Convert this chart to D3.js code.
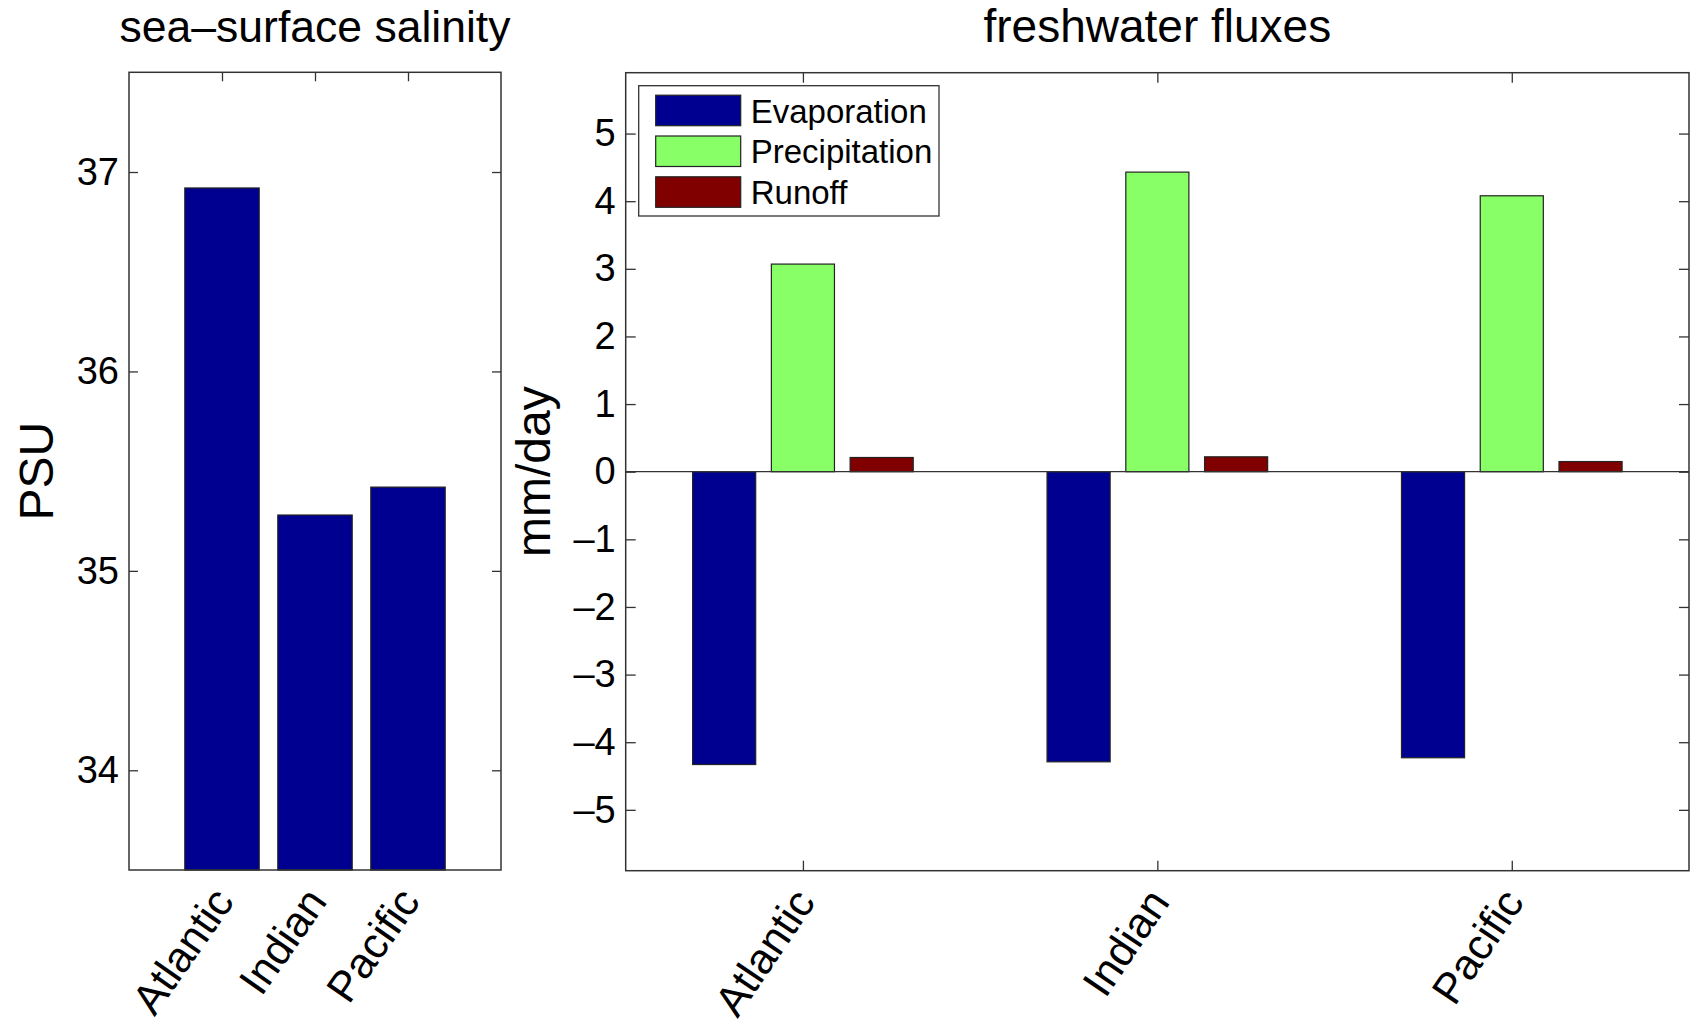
<!DOCTYPE html>
<html>
<head>
<meta charset="utf-8">
<script src="https://cdn.jsdelivr.net/npm/d3@7"></script>
<style>
  body { margin: 0; background: #fff; }
  svg { display: block; }
  text { font-family: "Liberation Sans", Arial, Helvetica, sans-serif; fill: #000; }
</style>
</head>
<body>
<svg id="chart" width="1696" height="1023"></svg>
<script>
// values
const basins = ["Atlantic", "Indian", "Pacific"];
const salinity = [36.92, 35.28, 35.42];
const seriesNames = ["Evaporation", "Precipitation", "Runoff"];
const evaporation = [-4.33, -4.29, -4.23];
const precipitation = [3.07, 4.43, 4.08];
const runoff = [0.21, 0.22, 0.15];
const seriesColors = ["#000090", "#88ff66", "#800000"];
const salinityTicks = [34, 35, 36, 37];
const fluxTicks = [-5, -4, -3, -2, -1, 0, 1, 2, 3, 4, 5];

const fmt = d => (d < 0 ? "\u2013" + Math.abs(d) : "" + d);
const svg = d3.select("#chart");

function styleAxis(g) {
    g.select(".domain").remove();
    g.selectAll(".tick line").attr("stroke", "#333").attr("stroke-width", 1.3);
    g.selectAll(".tick text").style("font-size", "38px");
}

// ---------- left panel: sea-surface salinity ----------
const L = {left: 129, right: 501, top: 72.3, bottom: 870};
const xL = d3.scaleLinear().domain([0, 4]).range([L.left, L.right]);
const yL = d3.scaleLinear().domain([33.5, 37.5]).range([L.bottom, L.top]);

svg.append("g").attr("transform", `translate(${L.left},0)`)
    .call(d3.axisLeft(yL).tickValues(salinityTicks).tickSizeInner(-9).tickSizeOuter(0).tickPadding(10).tickFormat(fmt))
    .call(styleAxis);
svg.append("g").attr("transform", `translate(${L.right},0)`)
    .call(d3.axisRight(yL).tickValues(salinityTicks).tickSizeInner(-9).tickSizeOuter(0).tickFormat(""))
    .call(styleAxis);
svg.append("g").attr("transform", `translate(0,${L.top})`)
    .call(d3.axisTop(xL).tickValues([1, 2, 3]).tickSizeInner(-9).tickSizeOuter(0).tickFormat(""))
    .call(styleAxis);

svg.append("g").selectAll("rect")
    .data(salinity).enter()
    .append("rect")
    .attr("x", (d, i) => xL(i + 1 - 0.4))
    .attr("width", xL(0.8) - xL(0))
    .attr("y", d => yL(d))
    .attr("height", d => yL(33.5) - yL(d))
    .attr("fill", seriesColors[0])
    .attr("stroke", "#222")
    .attr("stroke-width", 1.2);

svg.append("rect")
    .attr("x", L.left).attr("y", L.top)
    .attr("width", L.right - L.left).attr("height", L.bottom - L.top)
    .attr("fill", "none").attr("stroke", "#333").attr("stroke-width", 1.5);

svg.append("g").selectAll("text")
    .data(basins).enter()
    .append("text")
    .attr("transform", (d, i) => `translate(${xL(i + 1) + 1},${L.bottom + 23}) rotate(-55)`)
    .attr("text-anchor", "end")
    .attr("dy", "0.35em")
    .style("font-size", "43px")
    .text(d => d);

svg.append("text")
    .attr("x", (L.left + L.right) / 2).attr("y", 42)
    .attr("text-anchor", "middle")
    .style("font-size", "44.5px")
    .text("sea\u2013surface salinity");

svg.append("text")
    .attr("transform", `translate(53,${(L.top + L.bottom) / 2}) rotate(-90)`)
    .attr("text-anchor", "middle")
    .style("font-size", "48px")
    .text("PSU");

// ---------- right panel: freshwater fluxes ----------
const R = {left: 625.7, right: 1689, top: 72.7, bottom: 870.7};
const xR = d3.scaleLinear().domain([0.5, 3.5]).range([R.left, R.right]);
const yR = d3.scaleLinear().domain([-5.9, 5.9]).range([R.bottom, R.top]);
const groupOffset = d3.scaleLinear().domain([0, 2]).range([-0.2222, 0.2222]);
const barW = 0.178;

svg.append("g").attr("transform", `translate(${R.left},0)`)
    .call(d3.axisLeft(yR).tickValues(fluxTicks).tickSizeInner(-10).tickSizeOuter(0).tickPadding(10).tickFormat(fmt))
    .call(styleAxis);
svg.append("g").attr("transform", `translate(${R.right},0)`)
    .call(d3.axisRight(yR).tickValues(fluxTicks).tickSizeInner(-10).tickSizeOuter(0).tickFormat(""))
    .call(styleAxis);
svg.append("g").attr("transform", `translate(0,${R.top})`)
    .call(d3.axisTop(xR).tickValues([1, 2, 3]).tickSizeInner(-10).tickSizeOuter(0).tickFormat(""))
    .call(styleAxis);
svg.append("g").attr("transform", `translate(0,${R.bottom})`)
    .call(d3.axisBottom(xR).tickValues([1, 2, 3]).tickSizeInner(-10).tickSizeOuter(0).tickFormat(""))
    .call(styleAxis);

const fluxSeries = [evaporation, precipitation, runoff];
fluxSeries.forEach(function(values, j) {
    svg.append("g").selectAll("rect")
        .data(values).enter()
        .append("rect")
        .attr("x", (d, i) => xR(i + 1 + groupOffset(j) - barW / 2))
        .attr("width", xR(barW) - xR(0))
        .attr("y", d => yR(Math.max(d, 0)))
        .attr("height", d => Math.abs(yR(d) - yR(0)))
        .attr("fill", seriesColors[j])
        .attr("stroke", "#222")
        .attr("stroke-width", 1.2);
});

// zero baseline
svg.append("line")
    .attr("x1", R.left).attr("x2", R.right)
    .attr("y1", yR(0)).attr("y2", yR(0))
    .attr("stroke", "#333").attr("stroke-width", 1.3);

svg.append("rect")
    .attr("x", R.left).attr("y", R.top)
    .attr("width", R.right - R.left).attr("height", R.bottom - R.top)
    .attr("fill", "none").attr("stroke", "#333").attr("stroke-width", 1.5);

svg.append("g").selectAll("text")
    .data(basins).enter()
    .append("text")
    .attr("transform", (d, i) => `translate(${xR(i + 1) + 1},${R.bottom + 23}) rotate(-56)`)
    .attr("text-anchor", "end")
    .attr("dy", "0.35em")
    .style("font-size", "43px")
    .text(d => d);

svg.append("text")
    .attr("x", (R.left + R.right) / 2).attr("y", 42)
    .attr("text-anchor", "middle")
    .style("font-size", "46px")
    .text("freshwater fluxes");

svg.append("text")
    .attr("transform", `translate(550,${(R.top + R.bottom) / 2}) rotate(-90)`)
    .attr("text-anchor", "middle")
    .style("font-size", "48px")
    .text("mm/day");

// legend
const legend = svg.append("g").attr("transform", "translate(638.7,85.7)");
legend.append("rect")
    .attr("width", 300.3).attr("height", 130.3)
    .attr("fill", "#fff").attr("stroke", "#333").attr("stroke-width", 1.3);
seriesNames.forEach(function(name, j) {
    const row = legend.append("g").attr("transform", `translate(0,${9.5 + j * 40.8})`);
    row.append("rect")
        .attr("x", 17).attr("width", 85).attr("height", 30.5)
        .attr("fill", seriesColors[j]).attr("stroke", "#222").attr("stroke-width", 1.2);
    row.append("text")
        .attr("x", 112).attr("y", 15.5).attr("dy", "0.36em")
        .style("font-size", "33px")
        .text(name);
});
</script>
</body>
</html>
